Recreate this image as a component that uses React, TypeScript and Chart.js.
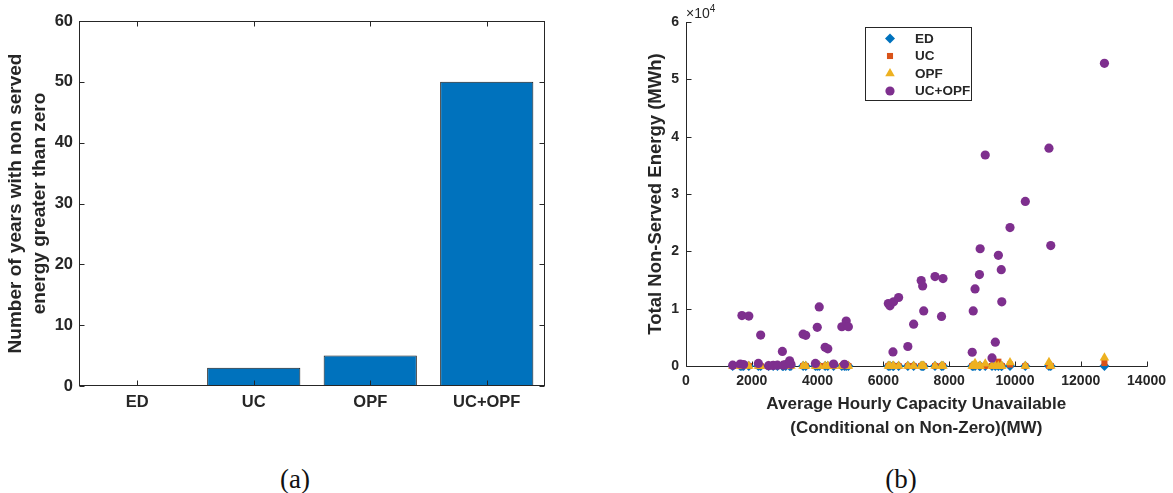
import React, { useEffect, useRef } from 'react';
import { Chart, registerables } from 'chart.js';
import { drawPoint } from 'chart.js/helpers';

Chart.register(...registerables);

// ---------- Data: panel (a) ----------
const methods = ['ED', 'UC', 'OPF', 'UC+OPF'];
const yearsWithNSE = [0, 3, 5, 50];

// ---------- Data: panel (b) ----------
const capacityMW = [
  1420, 1650, 1700, 1750, 1910, 2200, 2270, 2510, 2650, 2780,
  2930, 2960, 3030, 3150, 3190, 3560, 3640, 3935, 3990, 4050,
  4230, 4310, 4486, 4737, 4817, 4870, 4936, 6150, 6200, 6292,
  6310, 6463, 6744, 6920, 7149, 7194, 7226, 7570, 7768, 7813,
  8701, 8731, 8787, 8920, 8942, 9097, 9303, 9403, 9496, 9584,
  9600, 9850, 10315, 11034, 11089, 12720,
];
const nseUCOPF = [
  150, 350, 8800, 250, 8700, 450, 5400, 50, 100, 150,
  2550, 150, 250, 900, 300, 5550, 5350, 450, 6750, 10300,
  3250, 3000, 350, 6850, 300, 7850, 6850, 10900, 10500, 2450,
  11200, 11950, 3400, 7300, 14900, 13950, 9600, 15600, 8650, 15250,
  2400, 9600, 13450, 15950, 20450, 36800, 1400, 4150, 19300, 16800,
  11200, 24150, 28700, 38000, 21000, 52800,
];
const nseED = [
  0, 0, 0, 0, 0, 0, 0, 0, 0, 0,
  0, 0, 0, 0, 0, 0, 0, 0, 0, 0,
  0, 0, 0, 0, 0, 0, 0, 0, 0, 0,
  0, 0, 0, 0, 0, 0, 0, 0, 0, 0,
  0, 0, 0, 0, 0, 0, 0, 0, 0, 0,
  0, 0, 0, 0, 0, 0,
];
const nseUC = [
  0, 0, 0, 0, 0, 0, 0, 0, 0, 0,
  0, 0, 0, 0, 0, 0, 0, 0, 0, 0,
  0, 0, 0, 0, 0, 0, 0, 0, 0, 0,
  0, 0, 0, 0, 0, 0, 0, 0, 0, 0,
  0, 0, 0, 0, 0, 0, 0, 0, 750, 0,
  0, 250, 0, 0, 0, 520,
];
const nseOPF = [
  0, 0, 0, 0, 0, 0, 0, 0, 0, 0,
  0, 0, 0, 0, 0, 0, 0, 0, 0, 0,
  0, 0, 0, 0, 0, 0, 0, 0, 0, 0,
  0, 0, 0, 0, 0, 0, 0, 0, 0, 0,
  0, 0, 500, 0, 0, 400, 0, 0, 0, 0,
  0, 600, 0, 650, 0, 1450,
];

const AXIS = '#262626';
const FONT = '"Liberation Sans", Arial, Helvetica, sans-serif';

const seriesStyles = [
  { label: 'ED', color: '#0072BD', style: 'rectRot', radius: 5, data: nseED, order: 4 },
  { label: 'UC', color: '#D95319', style: 'rect', radius: 4.3, data: nseUC, order: 3 },
  { label: 'OPF', color: '#EDB120', style: 'triangle', radius: 5.5, data: nseOPF, order: 2 },
  { label: 'UC+OPF', color: '#7E2F8E', style: 'circle', radius: 4.6, data: nseUCOPF, order: 1 },
];

const boxPluginA = {
  id: 'boxA',
  afterDatasetsDraw(chart: any) {
    const { ctx, chartArea, scales } = chart;
    const { left, right, top, bottom } = chartArea;
    ctx.save();
    ctx.strokeStyle = AXIS;
    ctx.lineWidth = 1;
    const L = Math.round(left) + 0.5, R = Math.round(right) - 0.5;
    const T = Math.round(top) + 0.5, B = Math.round(bottom) - 0.5;
    ctx.strokeRect(L, T, R - L, B - T);
    ctx.beginPath();
    for (const t of scales.y.ticks) {
      const py = Math.round(scales.y.getPixelForValue(t.value)) + 0.5;
      ctx.moveTo(L, py); ctx.lineTo(L + 5, py);
      ctx.moveTo(R, py); ctx.lineTo(R - 5, py);
    }
    for (let i = 0; i < methods.length; i++) {
      const px = Math.round(scales.x.getPixelForValue(i)) + 0.5;
      ctx.moveTo(px, B); ctx.lineTo(px, B - 5);
      ctx.moveTo(px, T); ctx.lineTo(px, T + 5);
    }
    ctx.stroke();
    ctx.restore();
  },
};

const axesPluginB = {
  id: 'axesB',
  beforeDatasetsDraw(chart: any) {
    const { ctx, chartArea, scales } = chart;
    const { left, right, top, bottom } = chartArea;
    ctx.save();
    ctx.strokeStyle = AXIS;
    ctx.lineWidth = 1;
    const L = Math.round(left) + 0.5, R = Math.round(right) + 0.5;
    const T = Math.round(top), B = Math.round(bottom) + 0.5;
    ctx.beginPath();
    ctx.moveTo(L, T); ctx.lineTo(L, B); ctx.lineTo(R, B);
    for (const t of scales.y.ticks) {
      const py = Math.round(scales.y.getPixelForValue(t.value)) + 0.5;
      ctx.moveTo(L, py); ctx.lineTo(L + 5, py);
    }
    for (const t of scales.x.ticks) {
      const px = Math.round(scales.x.getPixelForValue(t.value)) + 0.5;
      ctx.moveTo(px, B); ctx.lineTo(px, B - 5);
    }
    ctx.stroke();
    ctx.restore();
  },
  afterDraw(chart: any) {
    const { ctx } = chart;
    ctx.save();
    const bx = 275.5, by = 27.5, bw = 106, bh = 73;
    ctx.fillStyle = '#ffffff';
    ctx.fillRect(bx, by, bw, bh);
    ctx.strokeStyle = AXIS;
    ctx.lineWidth = 1;
    ctx.strokeRect(bx, by, bw, bh);
    ctx.font = `bold 13.5px ${FONT}`;
    ctx.textBaseline = 'middle';
    ctx.textAlign = 'left';
    seriesStyles.forEach((s, i) => {
      const y = 38.5 + i * 17.5;
      ctx.fillStyle = s.color;
      ctx.strokeStyle = s.color;
      drawPoint(ctx, { pointStyle: s.style as any, radius: s.radius, borderWidth: 0, rotation: 0 }, 300, y);
      ctx.fillStyle = AXIS;
      ctx.fillText(s.label, 325, y + 0.5);
    });
    ctx.restore();
  },
};

function BarPanel() {
  const ref = useRef<HTMLCanvasElement | null>(null);
  useEffect(() => {
    if (!ref.current) return;
    const chart = new Chart(ref.current, {
      type: 'bar',
      data: {
        labels: methods,
        datasets: [
          {
            data: yearsWithNSE,
            backgroundColor: '#0072BD',
            borderColor: '#1a1a1a',
            borderWidth: 1,
            categoryPercentage: 0.8,
            barPercentage: 1,
          },
        ],
      },
      options: {
        responsive: false,
        animation: false,
        layout: { padding: { top: 21, right: 35, left: 0, bottom: 0 } },
        plugins: { legend: { display: false }, tooltip: { enabled: false } },
        scales: {
          x: {
            grid: { display: false, drawTicks: false },
            border: { display: false },
            ticks: { color: AXIS, font: { family: FONT, size: 16.5, weight: 'bold' }, padding: 7 },
            afterFit: (s: any) => { s.height = 54; },
          },
          y: {
            min: 0,
            max: 60,
            grid: { display: false, drawTicks: false },
            border: { display: false },
            ticks: { stepSize: 10, color: AXIS, font: { family: FONT, size: 16.5, weight: 'bold' }, padding: 6 },
            title: {
              display: true,
              text: ['Number of years with non served', 'energy greater than zero'],
              color: AXIS,
              font: { family: FONT, size: 19, weight: 'bold', lineHeight: 1.27 },
              padding: { top: 4, bottom: 0 },
            },
            afterFit: (s: any) => { s.width = 79; },
          },
        },
      },
      plugins: [boxPluginA],
    } as any);
    return () => chart.destroy();
  }, []);
  return <canvas ref={ref} width={580} height={440} style={{ position: 'absolute', left: 0, top: 0 }} />;
}

function ScatterPanel() {
  const ref = useRef<HTMLCanvasElement | null>(null);
  useEffect(() => {
    if (!ref.current) return;
    const chart = new Chart(ref.current, {
      type: 'scatter',
      data: {
        datasets: seriesStyles.map((s) => ({
          label: s.label,
          data: capacityMW.map((x, i) => ({ x, y: s.data[i] })),
          pointStyle: s.style,
          pointRadius: s.radius,
          backgroundColor: s.color,
          borderColor: s.color,
          borderWidth: 0,
          order: s.order,
          clip: false,
        })),
      },
      options: {
        responsive: false,
        animation: false,
        layout: { padding: { top: 22, right: 22, left: 0, bottom: 0 } },
        plugins: { legend: { display: false }, tooltip: { enabled: false } },
        scales: {
          x: {
            type: 'linear',
            min: 0,
            max: 14000,
            grid: { display: false, drawTicks: false },
            border: { display: false },
            ticks: {
              stepSize: 2000,
              maxRotation: 0,
              autoSkip: false,
              color: AXIS,
              font: { family: FONT, size: 14, weight: 'bold' },
              padding: 7,
              callback: (v: any) => String(v),
            },
            title: {
              display: true,
              text: ['Average Hourly Capacity Unavailable', '(Conditional on Non-Zero)(MW)'],
              color: AXIS,
              font: { family: FONT, size: 17, weight: 'bold', lineHeight: 1.41 },
              padding: { top: 0, bottom: 0 },
            },
            afterFit: (s: any) => { s.height = 74; },
          },
          y: {
            type: 'linear',
            min: 0,
            max: 60000,
            grid: { display: false, drawTicks: false },
            border: { display: false },
            ticks: {
              stepSize: 10000,
              color: AXIS,
              font: { family: FONT, size: 14, weight: 'bold' },
              padding: 7,
              callback: (v: any) => String(Number(v) / 10000),
            },
            title: {
              display: true,
              text: 'Total Non-Served Energy (MWh)',
              color: AXIS,
              font: { family: FONT, size: 18.5, weight: 'bold', lineHeight: 1.3 },
              padding: { top: 54, bottom: 0 },
            },
            afterFit: (s: any) => { s.width = 96; },
          },
        },
      },
      plugins: [axesPluginB],
    } as any);
    return () => chart.destroy();
  }, []);
  return <canvas ref={ref} width={583} height={440} style={{ position: 'absolute', left: 590, top: 0 }} />;
}

export default function App() {
  const caption: React.CSSProperties = {
    position: 'absolute',
    top: 463,
    width: 80,
    height: 32,
    lineHeight: '32px',
    textAlign: 'center',
    fontFamily: '"Liberation Serif", "Times New Roman", serif',
    fontSize: 27,
    color: '#111',
  };
  return (
    <div style={{ position: 'fixed', left: 0, top: 0, width: 1173, height: 493, background: '#fff', overflow: 'hidden' }}>
      <BarPanel />
      <ScatterPanel />
      <div
        style={{
          position: 'absolute',
          left: 686,
          top: 4,
          fontFamily: FONT,
          fontSize: 14,
          lineHeight: '18px',
          color: AXIS,
          whiteSpace: 'nowrap',
        }}
      >
        ×10<span style={{ fontSize: 10, position: 'relative', top: -6 }}>4</span>
      </div>
      <div style={{ ...caption, left: 255 }}>(a)</div>
      <div style={{ ...caption, left: 861 }}>(b)</div>
    </div>
  );
}
